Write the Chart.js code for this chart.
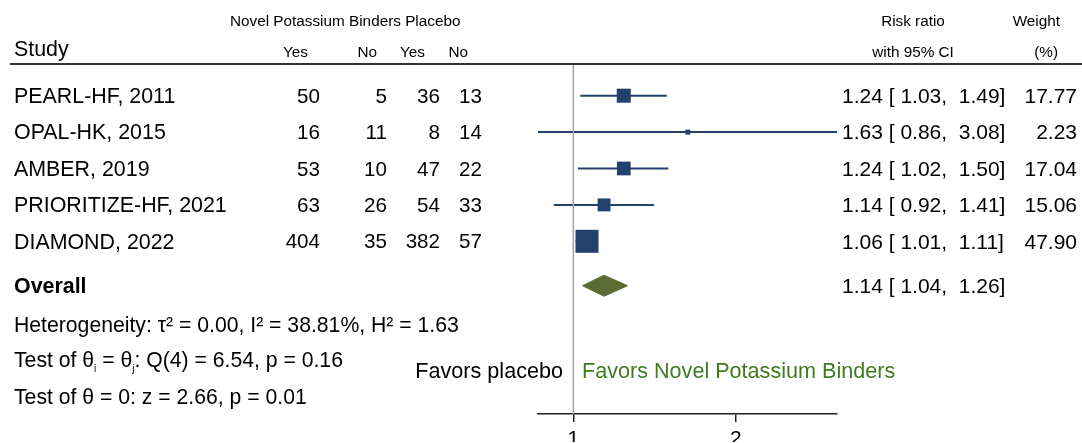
<!DOCTYPE html>
<html>
<head>
<meta charset="utf-8">
<script src="https://cdn.jsdelivr.net/npm/chart.js@4.4.1/dist/chart.umd.min.js"></script>
<style>
  html, body { margin: 0; padding: 0; background: #fff; }
  #wrap { width: 1082px; height: 443px; }
</style>
</head>
<body>
<div id="wrap"><canvas id="forest" width="1082" height="443"></canvas></div>
<script>
// data
const studies = ['PEARL-HF, 2011', 'OPAL-HK, 2015', 'AMBER, 2019', 'PRIORITIZE-HF, 2021', 'DIAMOND, 2022'];
const treatYes = [50, 16, 53, 63, 404];
const treatNo = [5, 11, 10, 26, 35];
const placeboYes = [36, 8, 47, 54, 382];
const placeboNo = [13, 14, 22, 33, 57];
const riskRatio = [1.24, 1.63, 1.24, 1.14, 1.06];
const ciLow = [1.03, 0.86, 1.02, 0.92, 1.01];
const ciHigh = [1.49, 3.08, 1.50, 1.41, 1.11];
const weights = [17.77, 2.23, 17.04, 15.06, 47.90];
const overallRR = 1.14;
const overallLow = 1.04;
const overallHigh = 1.26;
const xTicks = [1, 2];
const statLines = [
  'Heterogeneity: \u03c4\u00b2 = 0.00, I\u00b2 = 38.81%, H\u00b2 = 1.63',
  'Test of \u03b8|i| = \u03b8|j|: Q(4) = 6.54, p = 0.16',
  'Test of \u03b8 = 0: z = 2.66, p = 0.01'
];

const NAVY = '#22416c';
const OLIVE = '#5b6b33';
const GREEN = '#3f7b1f';
const FONT = '"Liberation Sans", Arial, Helvetica, sans-serif';
const LABEL = 21.4; // study names and captions
const NUM = 20.6;   // count columns
const BIG = 21;     // CI / weight text
const SMALL = 15.3; // header text size
const TY = 1.5;     // text baseline nudge

const Y_MIN = -0.871, Y_MAX = 8.745;
const overallRow = studies.length + 0.22;

const fmt = v => v.toFixed(2);
const ciText = (r, lo, hi) => fmt(r) + ' [ ' + fmt(lo) + ',  ' + fmt(hi) + ']';

const datasets = [];
// null line at RR = 1
datasets.push({ type: 'line', data: [{ x: 1, y: Y_MIN }, { x: 1, y: Y_MAX }], borderColor: '#a3a3a3', borderWidth: 1.5, pointRadius: 0 });
// confidence intervals
studies.forEach((s, i) => {
  datasets.push({ type: 'line', data: [{ x: ciLow[i], y: i }, { x: ciHigh[i], y: i }], borderColor: NAVY, borderWidth: 2, pointRadius: 0 });
});
// study estimates, square area ~ weight
datasets.push({
  type: 'scatter',
  data: studies.map((s, i) => ({ x: riskRatio[i], y: i })),
  pointStyle: 'rect',
  pointRadius: ctx => 2.35 * Math.sqrt(weights[ctx.dataIndex]),
  backgroundColor: NAVY, borderColor: NAVY, borderWidth: 0
});
// overall diamond
const dh = 0.29;
datasets.push({
  type: 'line',
  data: [
    { x: overallLow, y: overallRow }, { x: overallRR, y: overallRow - dh },
    { x: overallHigh, y: overallRow }, { x: overallRR, y: overallRow + dh },
    { x: overallLow, y: overallRow }
  ],
  borderColor: OLIVE, backgroundColor: OLIVE, borderWidth: 1, pointRadius: 0, tension: 0, fill: 'shape'
});

const tablePlugin = {
  id: 'forestTable',
  afterDraw(chart) {
    const ctx = chart.ctx;
    const ys = chart.scales.y;
    ctx.save();
    ctx.fillStyle = '#000';
    ctx.textBaseline = 'middle';

    const txt = (s, x, y, size, align, weight) => {
      ctx.font = (weight || 'normal') + ' ' + size + 'px ' + FONT;
      ctx.textAlign = align || 'left';
      ctx.fillText(s, x, y);
    };

    // header
    txt('Novel Potassium Binders Placebo', 230, 22, SMALL);
    txt('Study', 14, 50, LABEL);
    txt('Yes', 308, 53, SMALL, 'right');
    txt('No', 377, 53, SMALL, 'right');
    txt('Yes', 425, 53, SMALL, 'right');
    txt('No', 468, 53, SMALL, 'right');
    txt('Risk ratio', 913, 22, SMALL, 'center');
    txt('with 95% CI', 913, 53, SMALL, 'center');
    txt('Weight', 1060, 22, SMALL, 'right');
    txt('(%)', 1058, 53, SMALL, 'right');

    ctx.strokeStyle = '#333';
    ctx.lineWidth = 2;
    ctx.beginPath();
    ctx.moveTo(10, 64);
    ctx.lineTo(1082, 64);
    ctx.stroke();

    // study rows
    studies.forEach((s, i) => {
      const y = ys.getPixelForValue(i) + TY;
      txt(s, 14, y, LABEL);
      txt(String(treatYes[i]), 320, y, NUM, 'right');
      txt(String(treatNo[i]), 387, y, NUM, 'right');
      txt(String(placeboYes[i]), 440, y, NUM, 'right');
      txt(String(placeboNo[i]), 482, y, NUM, 'right');
      txt(ciText(riskRatio[i], ciLow[i], ciHigh[i]), 842, y, BIG);
      txt(fmt(weights[i]), 1077, y, BIG, 'right');
    });

    // overall
    const oy = ys.getPixelForValue(overallRow) + TY;
    txt('Overall', 14, oy, LABEL, 'left', 'bold');
    txt(ciText(overallRR, overallLow, overallHigh), 842, oy, BIG);

    // heterogeneity / tests, with |x| marking subscripts
    const offsets = [39, 74, 111];
    statLines.forEach((line, k) => {
      const y = oy + offsets[k];
      let x = 14;
      line.split('|').forEach((part, j) => {
        ctx.textAlign = 'left';
        if (j % 2 === 1) {
          ctx.font = '10px ' + FONT;
          ctx.fillText(part, x, y + 8);
        } else {
          ctx.font = '21.2px ' + FONT;
          ctx.fillText(part, x, y);
        }
        x += ctx.measureText(part).width;
      });
    });

    // favours labels
    txt('Favors placebo', 563, 372, 21.6, 'right');
    ctx.fillStyle = GREEN;
    txt('Favors Novel Potassium Binders', 582, 372, 21.6);
    ctx.restore();
  }
};

new Chart(document.getElementById('forest'), {
  type: 'scatter',
  data: { datasets },
  options: {
    responsive: false,
    devicePixelRatio: 1,
    animation: false,
    layout: { padding: { left: 538, right: 245, top: 64, bottom: 1 } },
    plugins: { legend: { display: false }, tooltip: { enabled: false } },
    scales: {
      x: {
        type: 'logarithmic',
        min: 0.86,
        max: 3.08,
        bounds: 'data',
        afterBuildTicks: s => { s.ticks = xTicks.map(v => ({ value: v })); },
        afterFit: s => { s.height = 28; },
        grid: { drawOnChartArea: false, drawTicks: true, tickLength: 8, color: '#222', lineWidth: 1.5 },
        border: { display: true, color: '#222', width: 1.5 },
        ticks: { color: '#000', font: { family: FONT, size: BIG }, padding: 5, autoSkip: false, maxRotation: 0, callback: v => String(v) }
      },
      y: { type: 'linear', display: false, reverse: true, min: Y_MIN, max: Y_MAX }
    }
  },
  plugins: [tablePlugin]
});
</script>
</body>
</html>
